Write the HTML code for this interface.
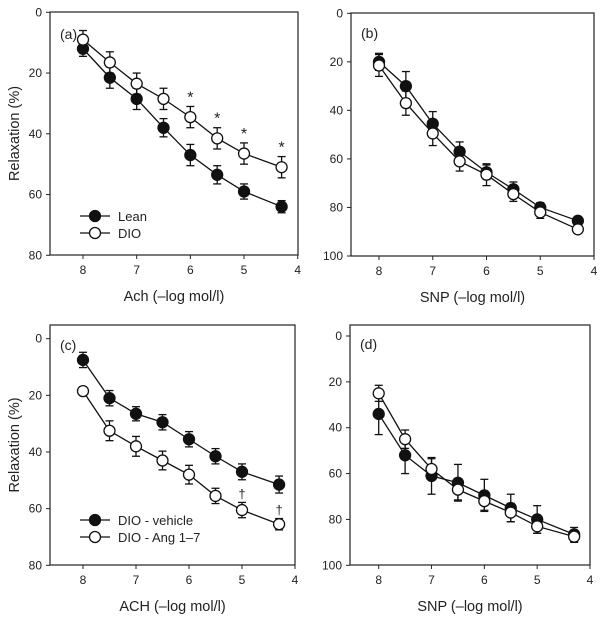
<!DOCTYPE html>
<html><head><meta charset="utf-8"><style>
html,body{margin:0;padding:0;background:#fff;}
svg{display:block;font-family:"Liberation Sans",Arial,sans-serif;}
</style></head><body>
<svg id="fig" width="604" height="622" viewBox="0 0 604 622"></svg>
<script>
const xTicks=[8,7,6,5,4];
const xVals=[8,7.5,7,6.5,6,5.5,5,4.3];
const aLean=[12,21.5,28.5,38,47,53.5,59,64];
const aLeanErr=[2.5,3.5,3.5,3,3.5,3,2.5,2];
const aDio=[9,16.5,23.5,28.5,34.5,41.5,46.5,51];
const aDioErr=[3,3.5,3.5,3.5,3.5,3.5,3.5,3.5];
const bLean=[20,30,45.5,57,65.5,72.5,80,85.5];
const bLeanErr=[3.5,6,5,4,3,3,2,1];
const bDio=[21.5,37,49.5,61,66.5,74.5,82,89];
const bDioErr=[4.5,5,5,4,4.5,3,2.5,1];
const cVeh=[7.5,21,26.5,29.5,35.5,41.5,47,51.5];
const cVehErr=[2.7,2.7,2.5,2.7,2.7,2.7,2.8,3];
const cAng=[18.5,32.5,38,43,48,55.5,60.5,65.5];
const cAngErr=[1.5,3.5,3.5,3.3,3.3,2.7,2.7,2];
const dVeh=[34,52,61,64,69.5,75,80,86.5];
const dVehErr=[9,8,8,8,7,6,6,3];
const dAng=[25,45,58,67,72,77,83,87.5];
const dAngErr=[3.5,4,4.5,4.5,4,4,3,2.5];
const aYTicks=[0,20,40,60,80];
const bYTicks=[0,20,40,60,80,100];

const NS="http://www.w3.org/2000/svg";
const svg=document.getElementById('fig');
function mk(tag,attrs,parent,text){const e=document.createElementNS(NS,tag);for(const k in attrs)e.setAttribute(k,attrs[k]);if(text!==undefined)e.textContent=text;(parent||svg).appendChild(e);return e;}

function panel(o){
  const g=mk('g',{});
  
  
  const xs=v=>o.x8+(8-v)*(o.x4-o.x8)/4;
  const ys=v=>o.y0+v*(o.yMaxPx-o.y0)/o.yMax;
  const fr=mk('rect',{x:o.L,y:o.T,width:o.R-o.L,height:o.B-o.T,fill:'none',stroke:'#222','stroke-width':1.2},g);
  
  
  xTicks.forEach(t=>{const x=xs(t);
    mk('line',{x1:x,x2:x,y1:o.B,y2:o.B+4,stroke:'#222'},g);
    const tl=mk('text',{x:x,y:o.B+19,'font-size':12,'text-anchor':'middle',fill:'#222'},g,String(t));
    
    });
  o.yTicks.forEach(t=>{const y=ys(t);
    mk('line',{x1:o.L-4,x2:o.L,y1:y,y2:y,stroke:'#222'},g);
    const tl=mk('text',{x:o.L-8,y:y+4,'font-size':12,'text-anchor':'end',fill:'#222'},g,String(t));
    
    });
  const xl=mk('text',{x:(o.L+o.R)/2,y:o.B+46,'font-size':14.5,'text-anchor':'middle',fill:'#222'},g,o.xlabel);
  
  
  if(o.ylabel){const yl=mk('text',{x:0,y:0,'font-size':14.5,'text-anchor':'middle',fill:'#222',transform:`translate(19,${(o.T+o.B)/2}) rotate(-90)`},g,o.ylabel);
    
    }
  const pl=mk('text',{x:o.L+10,y:o.labY,'font-size':14,fill:'#222'},g,o.tag);
  
  
  o.series.forEach(s=>{
    const sg=mk('g',{},g);
    
    
    mk('polyline',{points:xVals.map((v,i)=>xs(v)+','+ys(s.vals[i])).join(' '),fill:'none',stroke:'#111','stroke-width':1.3},sg);
    xVals.forEach((v,i)=>{const x=xs(v),y1=ys(s.vals[i]-s.err[i]),y2=ys(s.vals[i]+s.err[i]);
      mk('line',{x1:x,x2:x,y1:y1,y2:y2,stroke:'#111','stroke-width':1.3},sg);
      mk('line',{x1:x-4,x2:x+4,y1:y1,y2:y1,stroke:'#111','stroke-width':1.3},sg);
      mk('line',{x1:x-4,x2:x+4,y1:y2,y2:y2,stroke:'#111','stroke-width':1.3},sg);});
    xVals.forEach((v,i)=>{const c=mk('circle',{cx:xs(v),cy:ys(s.vals[i]),r:5.5,fill:s.fill,stroke:'#111','stroke-width':1.3},sg);
      
      });
  });
  if(o.marks){o.marks.forEach(m=>{const s=o.series[m.s];const i=m.i;
    const t=mk('text',{x:xs(xVals[i]),y:ys(s.vals[i]-s.err[i])-4,'font-size':m.size,'text-anchor':'middle',fill:'#222'},g,m.ch);
    
    });}
  if(o.legend){o.legend.forEach((l,k)=>{const y=o.legY+k*17;const lg=mk('g',{},g);
    
    
    mk('line',{x1:o.L+30,x2:o.L+60,y1:y,y2:y,stroke:'#111','stroke-width':1.3},lg);
    mk('circle',{cx:o.L+45,cy:y,r:5.5,fill:l.fill,stroke:'#111','stroke-width':1.3},lg);
    mk('text',{x:o.L+68,y:y+5,'font-size':13,fill:'#222'},lg,l.text);});}
}

panel({id:'a',tag:'(a)',L:50,R:298,T:12,B:255,x8:83,x4:297.7,y0:12.3,yMaxPx:255.3,yMax:80,yTicks:aYTicks,
  xlabel:'Ach (\u2013log mol/l)',ylabel:'Relaxation (%)',labY:39,
  series:[{name:'lean',vals:aLean,err:aLeanErr,fill:'#111'},{name:'dio',vals:aDio,err:aDioErr,fill:'#fff'}],
  marks:[4,5,6,7].map(i=>({s:1,i:i,ch:'*',size:16})),
  legend:[{fill:'#111',text:'Lean'},{fill:'#fff',text:'DIO'}],legY:216});
panel({id:'b',tag:'(b)',L:351,R:594,T:13,B:256,x8:379,x4:594,y0:13.3,yMaxPx:256,yMax:100,yTicks:bYTicks,
  xlabel:'SNP (\u2013log mol/l)',ylabel:null,labY:38,
  series:[{name:'lean',vals:bLean,err:bLeanErr,fill:'#111'},{name:'dio',vals:bDio,err:bDioErr,fill:'#fff'}]});
panel({id:'c',tag:'(c)',L:50,R:295,T:325,B:565,x8:83,x4:295,y0:338.7,yMaxPx:565.3,yMax:80,yTicks:aYTicks,
  xlabel:'ACH (\u2013log mol/l)',ylabel:'Relaxation (%)',labY:350,
  series:[{name:'dio-vehicle',vals:cVeh,err:cVehErr,fill:'#111'},{name:'dio-ang',vals:cAng,err:cAngErr,fill:'#fff'}],
  marks:[6,7].map(i=>({s:1,i:i,ch:'\u2020',size:13})),
  legend:[{fill:'#111',text:'DIO - vehicle'},{fill:'#fff',text:'DIO - Ang 1\u20137'}],legY:520});
panel({id:'d',tag:'(d)',L:350,R:590,T:325,B:565,x8:378.7,x4:590,y0:336,yMaxPx:565.3,yMax:100,yTicks:bYTicks,
  xlabel:'SNP (\u2013log mol/l)',ylabel:null,labY:349,
  series:[{name:'dio-vehicle',vals:dVeh,err:dVehErr,fill:'#111'},{name:'dio-ang',vals:dAng,err:dAngErr,fill:'#fff'}]});
</script>
</body></html>
